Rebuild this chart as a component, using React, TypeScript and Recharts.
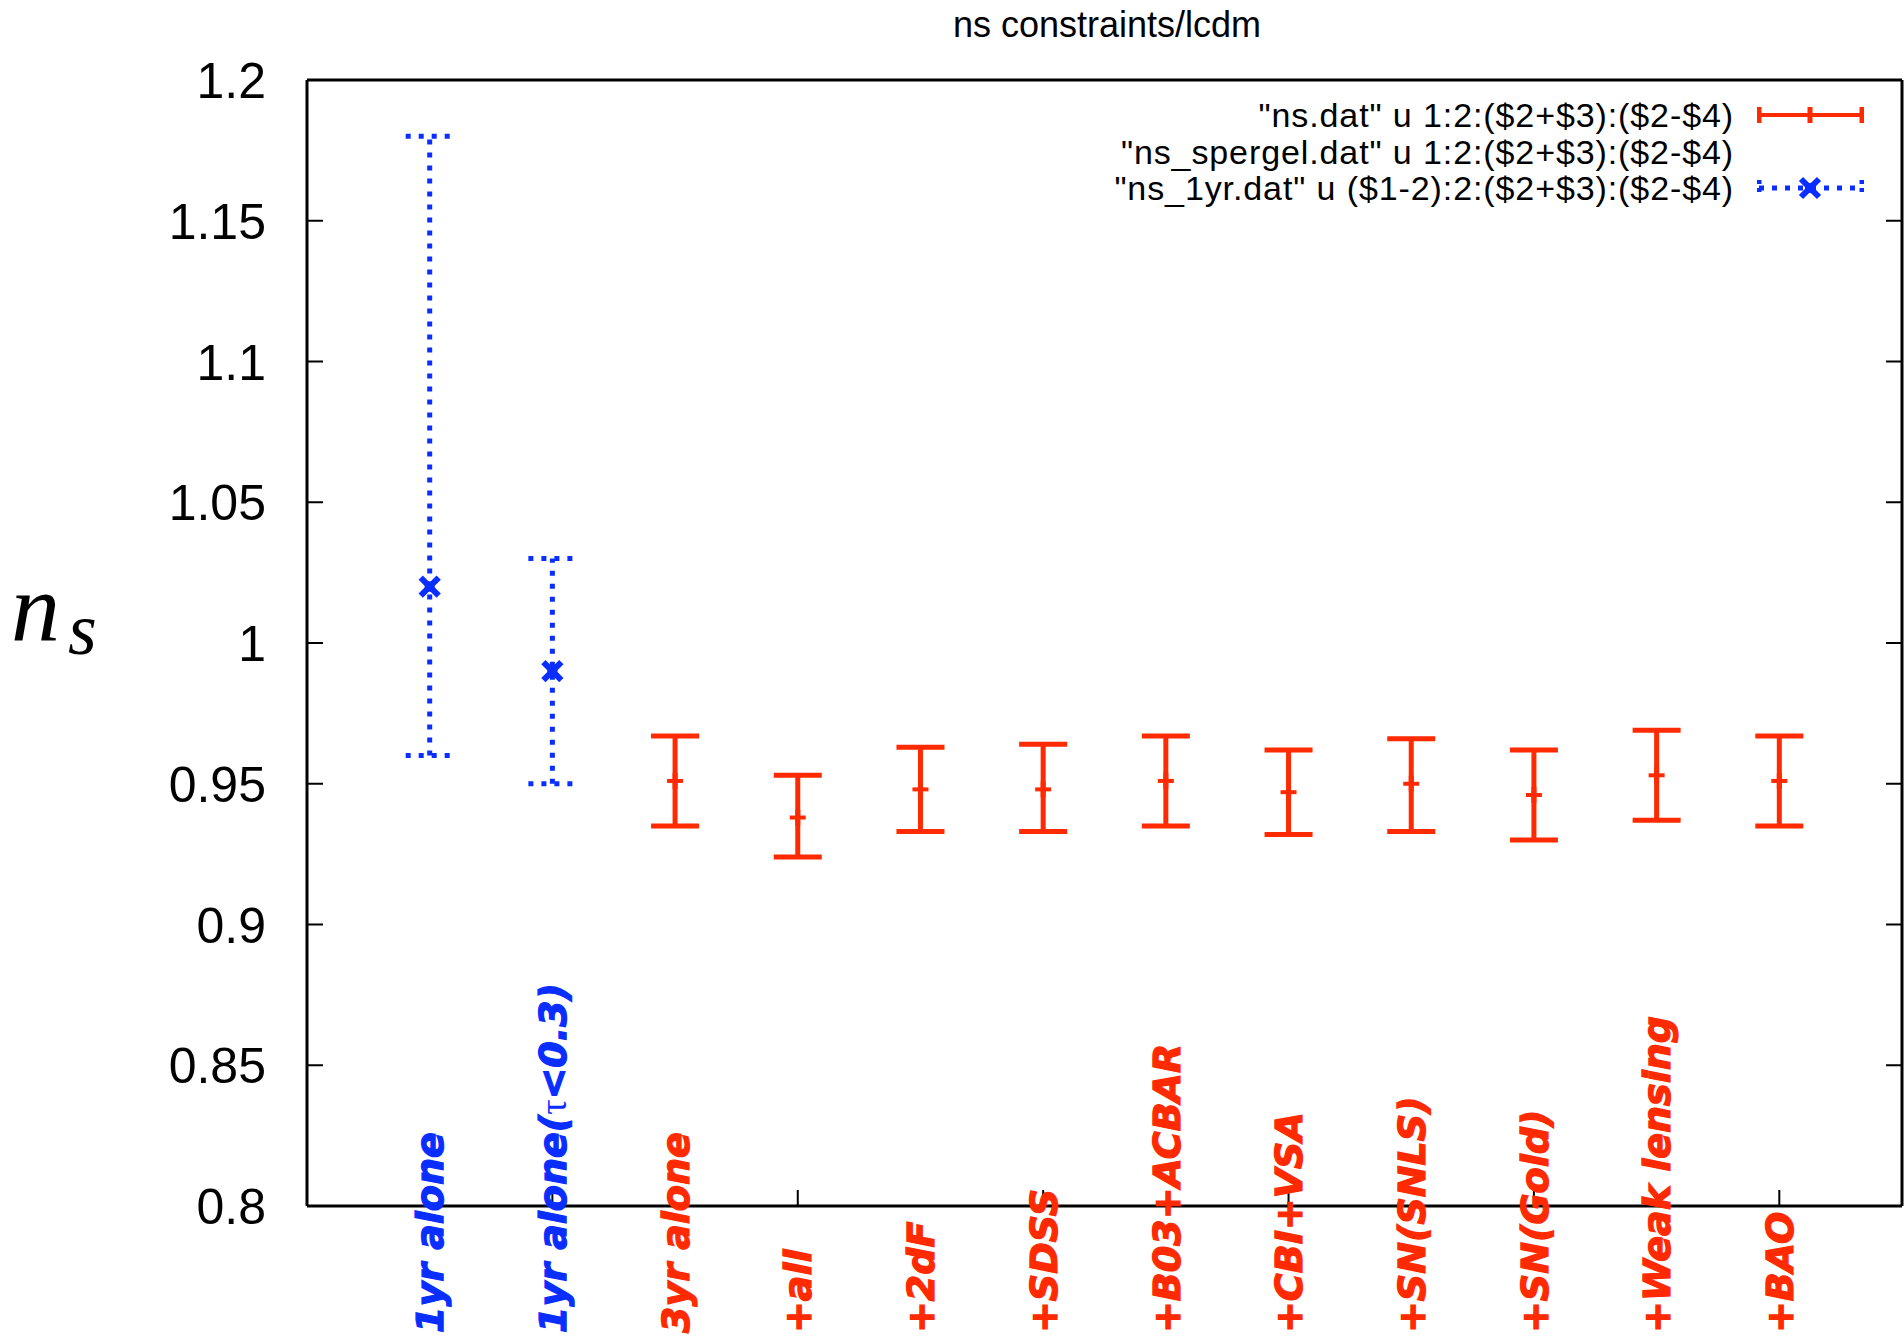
import React from 'react';
import { ScatterChart, Scatter, XAxis, YAxis, ErrorBar, Legend } from 'recharts';

const TITLE = 'ns constraints/lcdm';

const CATEGORIES = [
  '1yr alone',
  '1yr alone(τ<0.3)',
  '3yr alone',
  '+all',
  '+2dF',
  '+SDSS',
  '+B03+ACBAR',
  '+CBI+VSA',
  '+SN(SNLS)',
  '+SN(Gold)',
  '+Weak lensing',
  '+BAO',
];
const CATEGORY_X = [1, 2, 3, 4, 5, 6, 7, 8, 9, 10, 11, 12];

// 1yr data (blue, dotted)
const ONE_YR_X = [1, 2];
const ONE_YR_NS = [1.02, 0.99];
const ONE_YR_UPPER = [1.18, 1.03];
const ONE_YR_LOWER = [0.96, 0.95];

// 3yr data (red)
const THREE_YR_X = [3, 4, 5, 6, 7, 8, 9, 10, 11, 12];
const THREE_YR_NS = [0.951, 0.938, 0.948, 0.948, 0.951, 0.947, 0.95, 0.946, 0.953, 0.951];
const THREE_YR_UPPER = [0.967, 0.953, 0.963, 0.964, 0.967, 0.962, 0.966, 0.962, 0.969, 0.967];
const THREE_YR_LOWER = [0.935, 0.924, 0.933, 0.933, 0.935, 0.932, 0.933, 0.93, 0.937, 0.935];

const Y_TICKS = [0.8, 0.85, 0.9, 0.95, 1, 1.05, 1.1, 1.15, 1.2];
const X_MAJOR_TICKS = [0, 2, 4, 6, 8, 10, 12];

const LEGEND_ITEMS = [
  '"ns.dat" u 1:2:($2+$3):($2-$4)',
  '"ns_spergel.dat" u 1:2:($2+$3):($2-$4)',
  '"ns_1yr.dat" u ($1-2):2:($2+$3):($2-$4)',
];

const RED = '#ff2a00';
const BLUE = '#0a2eff';
const SANS = '"Liberation Sans", Arial, sans-serif';

const toPoints = (xs: number[], ns: number[], up: number[], lo: number[]) =>
  xs.map((x, i) => ({ x, y: ns[i], err: [ns[i] - lo[i], up[i] - ns[i]] }));

const threeYrData = toPoints(THREE_YR_X, THREE_YR_NS, THREE_YR_UPPER, THREE_YR_LOWER);
const oneYrData = toPoints(ONE_YR_X, ONE_YR_NS, ONE_YR_UPPER, ONE_YR_LOWER);

const fmt = (v: number) => String(Number(v.toFixed(2)));

const PlusShape = (props: any) => {
  const { cx, cy } = props;
  return (
    <g>
      <line x1={cx - 8} y1={cy} x2={cx + 8} y2={cy} stroke={RED} strokeWidth={4} />
      <line x1={cx} y1={cy - 8} x2={cx} y2={cy + 8} stroke={RED} strokeWidth={5} />
    </g>
  );
};

const CrossShape = (props: any) => {
  const { cx, cy } = props;
  return (
    <g>
      <line x1={cx - 9} y1={cy - 9} x2={cx + 9} y2={cy + 9} stroke={BLUE} strokeWidth={6} />
      <line x1={cx - 9} y1={cy + 9} x2={cx + 9} y2={cy - 9} stroke={BLUE} strokeWidth={6} />
      <rect x={cx - 5} y={cy - 5} width={10} height={10} fill={BLUE} />
    </g>
  );
};

const categoryText = (label: string) => {
  const i = label.indexOf('τ');
  if (i < 0) return label;
  return (
    <>
      {label.slice(0, i)}
      <tspan fontFamily="'Liberation Serif', serif" fontWeight="normal" fontStyle="normal" strokeWidth={0}>
        τ
      </tspan>
      {label.slice(i + 1)}
    </>
  );
};

const BottomTick = (props: any) => {
  const { x, y, payload } = props;
  const v = payload.value;
  const idx = CATEGORY_X.indexOf(v);
  const color = ONE_YR_X.includes(v) ? BLUE : RED;
  return (
    <g>
      {v % 2 === 0 && <line x1={x} y1={y} x2={x} y2={y - 16} stroke="#000" strokeWidth={2} />}
      {idx >= 0 && (
        <text
          transform={`translate(${x},${y + 127}) rotate(-90)`}
          dy="0.36em"
          textAnchor="start"
          fill={color}
          stroke={color}
          strokeWidth={1.3}
          fontFamily="'DejaVu Sans', sans-serif"
          fontWeight="bold"
          fontStyle="italic"
          fontSize={38}
        >
          {categoryText(CATEGORIES[idx])}
        </text>
      )}
    </g>
  );
};

const TopTick = (props: any) => {
  const { x, y } = props;
  return <line x1={x} y1={y} x2={x} y2={y + 16} stroke="#000" strokeWidth={2} />;
};

const LeftTick = (props: any) => {
  const { x, y, payload } = props;
  return (
    <g>
      <line x1={x} y1={y} x2={x + 16} y2={y} stroke="#000" strokeWidth={2} />
      <text x={x - 41} y={y} dy="0.36em" textAnchor="end" fontFamily={SANS} fontSize={50} fill="#000">
        {fmt(payload.value)}
      </text>
    </g>
  );
};

const RightTick = (props: any) => {
  const { x, y } = props;
  return <line x1={x - 16} y1={y} x2={x} y2={y} stroke="#000" strokeWidth={2} />;
};

const YLabel = (props: any) => {
  const { viewBox } = props;
  const cy = viewBox.y + viewBox.height / 2;
  return (
    <text
      x={viewBox.x + 11}
      y={cy - 3}
      fontFamily="'Liberation Serif', serif"
      fontStyle="italic"
      fontSize={98}
      fill="#000"
    >
      n
      <tspan x={viewBox.x + 68} y={cy + 11} fontSize={74}>
        s
      </tspan>
    </text>
  );
};

const LegendSample = ({ index }: { index: number }) => {
  if (index === 0) {
    return (
      <svg width={107} height={36} style={{ marginLeft: 23 }}>
        <line x1={2} y1={18} x2={105} y2={18} stroke={RED} strokeWidth={4} />
        <line x1={2} y1={10} x2={2} y2={26} stroke={RED} strokeWidth={5} />
        <line x1={105} y1={10} x2={105} y2={26} stroke={RED} strokeWidth={5} />
        <line x1={53} y1={10} x2={53} y2={26} stroke={RED} strokeWidth={5} />
      </svg>
    );
  }
  if (index === 2) {
    return (
      <svg width={107} height={36} style={{ marginLeft: 23 }}>
        <line x1={2} y1={18} x2={105} y2={18} stroke={BLUE} strokeWidth={5} strokeDasharray="5 8" />
        <line x1={2} y1={10} x2={2} y2={26} stroke={BLUE} strokeWidth={5} strokeDasharray="4 4" />
        <line x1={105} y1={10} x2={105} y2={26} stroke={BLUE} strokeWidth={5} strokeDasharray="4 4" />
        <CrossShape cx={53} cy={18} />
      </svg>
    );
  }
  return <svg width={107} height={36} style={{ marginLeft: 23 }} />;
};

const renderLegend = () => (
  <div style={{ fontFamily: SANS, fontSize: 34, letterSpacing: 0.9, lineHeight: '36.5px', color: '#000' }}>
    {LEGEND_ITEMS.map((name, i) => (
      <div
        key={name}
        style={{ display: 'flex', justifyContent: 'flex-end', alignItems: 'center', height: 36.5, whiteSpace: 'nowrap' }}
      >
        <span>{name}</span>
        <LegendSample index={i} />
      </div>
    ))}
  </div>
);

const axisLine = { stroke: '#000', strokeWidth: 3 };

const App = () => {
  return (
    <div style={{ position: 'absolute', left: 0, top: 0, width: 1904, height: 1339, background: '#fff' }}>
      <style>{`.recharts-errorBars line, .recharts-errorBar line, g.recharts-errorBar { stroke-width: 5px !important; }`}</style>
      <div
        style={{
          position: 'absolute',
          left: 307,
          width: 1600,
          top: 7,
          textAlign: 'center',
          fontFamily: SANS,
          fontSize: 36,
          lineHeight: '36px',
          color: '#000',
          zIndex: 2,
        }}
      >
        {TITLE}
      </div>
      <ScatterChart width={1904} height={1339} margin={{ top: 79, right: 1, bottom: 0, left: 0 }}>
        <XAxis
          xAxisId="bottom"
          type="number"
          dataKey="x"
          domain={[0, 13]}
          ticks={[0, ...CATEGORY_X]}
          interval={0}
          height={133}
          tickSize={0}
          tickMargin={0}
          tickLine={false}
          axisLine={axisLine}
          tick={BottomTick}
          allowDataOverflow
        />
        <XAxis
          xAxisId="top"
          orientation="top"
          type="number"
          domain={[0, 13]}
          ticks={X_MAJOR_TICKS}
          interval={0}
          height={1}
          tickSize={0}
          tickMargin={0}
          tickLine={false}
          axisLine={axisLine}
          tick={TopTick}
          allowDataOverflow
        />
        <YAxis
          yAxisId="left"
          type="number"
          dataKey="y"
          domain={[0.8, 1.2]}
          ticks={Y_TICKS}
          interval={0}
          width={307}
          tickSize={0}
          tickMargin={0}
          tickLine={false}
          axisLine={axisLine}
          tick={LeftTick}
          label={YLabel}
          allowDataOverflow
        />
        <YAxis
          yAxisId="right"
          orientation="right"
          type="number"
          domain={[0.8, 1.2]}
          ticks={Y_TICKS}
          interval={0}
          width={1}
          tickSize={0}
          tickMargin={0}
          tickLine={false}
          axisLine={axisLine}
          tick={RightTick}
          allowDataOverflow
        />
        <Legend
          layout="vertical"
          align="center"
          verticalAlign="middle"
          wrapperStyle={{ top: 97, right: 40, left: 'auto', width: 'auto' }}
          content={renderLegend}
        />
        <Scatter
          name={LEGEND_ITEMS[0]}
          xAxisId="bottom"
          yAxisId="left"
          data={threeYrData}
          shape={PlusShape}
          isAnimationActive={false}
        >
          <ErrorBar dataKey="err" direction="y" width={24} stroke={RED} strokeWidth={5} isAnimationActive={false} />
        </Scatter>
        <Scatter
          name={LEGEND_ITEMS[2]}
          xAxisId="bottom"
          yAxisId="left"
          data={oneYrData}
          shape={CrossShape}
          isAnimationActive={false}
        >
          <ErrorBar
            dataKey="err"
            direction="y"
            width={24}
            stroke={BLUE}
            strokeWidth={5}
            strokeDasharray="5 8"
            isAnimationActive={false}
          />
        </Scatter>
      </ScatterChart>
    </div>
  );
};

export default App;
